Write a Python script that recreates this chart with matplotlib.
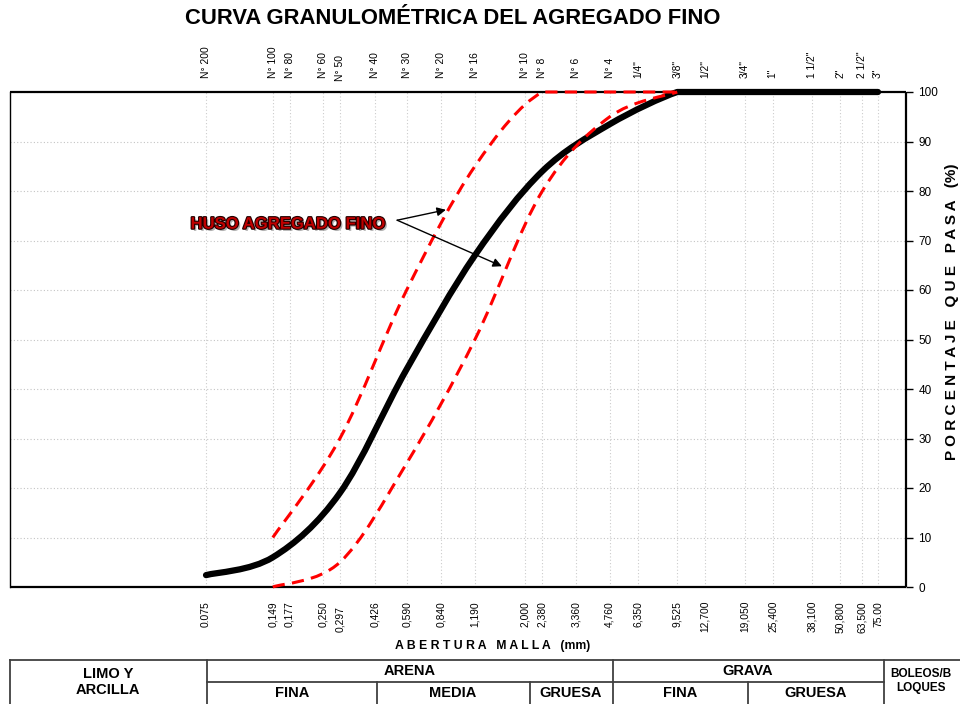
import numpy as np
import matplotlib
matplotlib.use('Agg')
import matplotlib.pyplot as plt
import matplotlib.patheffects as pe
from matplotlib.path import Path
from matplotlib.patches import PathPatch

plt.rcParams['font.family'] = ['Liberation Sans', 'DejaVu Sans']

# aberturas de malla (mm) y nombres de tamiz
aberturas = [0.075, 0.149, 0.177, 0.250, 0.297, 0.426, 0.590, 0.840, 1.190, 2.000, 2.380,
             3.360, 4.760, 6.350, 9.525, 12.700, 19.050, 25.400, 38.100, 50.800, 63.500, 75.00]
etiq_abajo = ['0.075', '0,149', '0,177', '0,250', '0,297', '0,426', '0,590', '0,840', '1,190',
              '2,000', '2,380', '3,360', '4,760', '6,350', '9,525', '12,700', '19,050', '25,400',
              '38,100', '50,800', '63,500', '75.00']
etiq_arriba = ['N° 200', 'N° 100', 'N° 80', 'N° 60', 'N° 50', 'N° 40', 'N° 30', 'N° 20', 'N° 16',
               'N° 10', 'N° 8', 'N° 6', 'N° 4', '1/4"', '3/8"', '1/2"', '3/4"', '1"', '1 1/2"',
               '2"', '2 1/2"', '3"']

# curva del agregado
tam_muestra = [0.075, 0.149, 0.297, 0.590, 1.190, 2.380, 4.760, 9.525, 12.700, 19.050, 25.400,
               38.100, 50.800, 63.500, 75.00]
pasa_muestra = [2.4, 6.0, 19.0, 44.0, 67.0, 84.0, 93.5, 100, 100, 100, 100, 100, 100, 100, 100]

# huso (limites)
tam_huso = [0.149, 0.297, 0.590, 1.190, 2.380, 4.760, 9.525]
huso_sup = [10, 30, 60, 85, 100, 100, 100]
huso_inf = [0, 5, 25, 50, 80, 95, 100]


def curva_suave(xs, ys):
    # bezier tipo excel en espacio log(x), sin sobrepasar los extremos de cada tramo
    lx = np.log10(xs)
    y = np.asarray(ys, dtype=float)
    n = len(lx)
    verts = [(xs[0], y[0])]
    codes = [Path.MOVETO]
    for i in range(n - 1):
        a = i - 1 if i > 0 else i
        b = i + 2 if i + 2 < n else i + 1
        lo, hi = min(y[i], y[i + 1]), max(y[i], y[i + 1])
        c1x = lx[i] + (lx[i + 1] - lx[a]) / 6
        c1y = np.clip(y[i] + (y[i + 1] - y[a]) / 6, lo, hi)
        c2x = lx[i + 1] - (lx[b] - lx[i]) / 6
        c2y = np.clip(y[i + 1] - (y[b] - y[i]) / 6, lo, hi)
        verts += [(10 ** c1x, c1y), (10 ** c2x, c2y), (xs[i + 1], y[i + 1])]
        codes += [Path.CURVE4] * 3
    return Path(verts, codes)


fig = plt.figure(figsize=(9.6, 7.04), dpi=100)
W, H = 960, 704
ax = fig.add_axes([10 / W, (H - 587) / H, 896 / W, 495 / H])

ax.set_xscale('log')
ax.set_xlim(0.01, 100)
ax.set_ylim(0, 100)

# rejilla
ax.set_xticks(aberturas)
ax.set_xticklabels([])
ax.xaxis.set_minor_locator(matplotlib.ticker.NullLocator())
ax.tick_params(axis='x', length=0)
ax.grid(True, axis='x', color='#cccccc', linestyle=(0, (1, 2)), linewidth=0.8)
ax.set_yticks(range(0, 101, 10))
ax.grid(True, axis='y', color='#c4c4c4', linestyle=(0, (1, 2)), linewidth=0.8)
ax.yaxis.tick_right()
ax.tick_params(axis='y', direction='out', length=5, width=1, labelsize=8.5, pad=4, left=False)

for s in ['top', 'bottom', 'right']:
    ax.spines[s].set_linewidth(1.6)
    ax.spines[s].set_capstyle('butt')
ax.spines['left'].set_linewidth(1.0)

# huso y curva
for yy in (huso_sup, huso_inf):
    ax.add_patch(PathPatch(curva_suave(tam_huso, yy), fill=False, edgecolor='#ff0000',
                           linewidth=2.2, linestyle=(0, (4, 2.4)), capstyle='butt',
                           zorder=4, clip_on=False))
ax.add_patch(PathPatch(curva_suave(tam_muestra, pasa_muestra), fill=False, edgecolor='black',
                       linewidth=4.5, capstyle='round', joinstyle='round', zorder=3, clip_on=False))

# etiquetas de tamices
for x, t in zip(aberturas, etiq_arriba):
    dy = 8 if t == 'N° 50' else 10
    ax.annotate(t, xy=(x, 1), xycoords=('data', 'axes fraction'), xytext=(0, dy),
                textcoords='offset points', rotation=90, ha='center', va='bottom', fontsize=7.4)
for x, t in zip(aberturas, etiq_abajo):
    dy = -14 if t == '0,297' else -10
    ax.annotate(t, xy=(x, 0), xycoords=('data', 'axes fraction'), xytext=(0, dy),
                textcoords='offset points', rotation=90, ha='center', va='top', fontsize=7.4)

ax.set_ylabel('P O R C E N T A J E   Q U E   P A S A   (%)', fontsize=11, fontweight='bold')
ax.yaxis.set_label_position('right')
ax.yaxis.set_label_coords((945 - 10) / 896, (587 - 312) / 495)
fig.text(493 / W, 1 - 646 / H, 'A B E R T U R A   M A L L A   (mm)', ha='center', va='center',
         fontsize=8.8, fontweight='bold')

fig.text(453 / W, 1 - 18 / H, 'CURVA GRANULOMÉTRICA DEL AGREGADO FINO', ha='center',
         va='center', fontsize=15.8, fontweight='bold')

# rotulo del huso
ax.text(0.064, 73.3, 'HUSO AGREGADO FINO', ha='left', va='center', fontsize=12,
        fontweight='bold', color='#c00000', zorder=6,
        path_effects=[pe.SimplePatchShadow(offset=(1.6, -1.6), shadow_rgbFace='#808080', alpha=0.6),
                      pe.Stroke(linewidth=1.6, foreground='#200000'), pe.Normal()])
for destino in [(0.883, 76.2), (1.57, 64.8)]:
    ax.annotate('', xy=destino, xytext=(0.535, 74.1),
                arrowprops=dict(arrowstyle='-|>', color='black', lw=1.0, mutation_scale=13,
                                shrinkA=0, shrinkB=0), zorder=6)

# tabla de clasificacion
tab = fig.add_axes([0, 0, 1, 1], facecolor='none')
tab.set_xlim(0, W)
tab.set_ylim(H, 0)
tab.axis('off')
lc = '#404040'
tab.plot([10, 960], [660, 660], color=lc, lw=1.3)
tab.plot([10, 10], [660, 704], color=lc, lw=1.3)
for xv in (207, 613, 884):
    tab.plot([xv, xv], [660, 704], color=lc, lw=1.3)
tab.plot([207, 884], [682, 682], color=lc, lw=1.3)
for xv in (377, 530, 748):
    tab.plot([xv, xv], [682, 704], color=lc, lw=1.3)

kw = dict(ha='center', va='center', fontweight='bold', fontsize=10.5)
tab.text(108, 682, 'LIMO Y\nARCILLA', linespacing=1.25, **kw)
tab.text(410, 671, 'ARENA', **kw)
tab.text(748, 671, 'GRAVA', **kw)
tab.text(292, 693, 'FINA', **kw)
tab.text(453, 693, 'MEDIA', **kw)
tab.text(571, 693, 'GRUESA', **kw)
tab.text(680, 693, 'FINA', **kw)
tab.text(816, 693, 'GRUESA', **kw)
tab.text(921, 681, 'BOLEOS/B\nLOQUES', ha='center', va='center', fontweight='bold',
         fontsize=8.5, linespacing=1.2)

fig.savefig('out.png', dpi=100)
